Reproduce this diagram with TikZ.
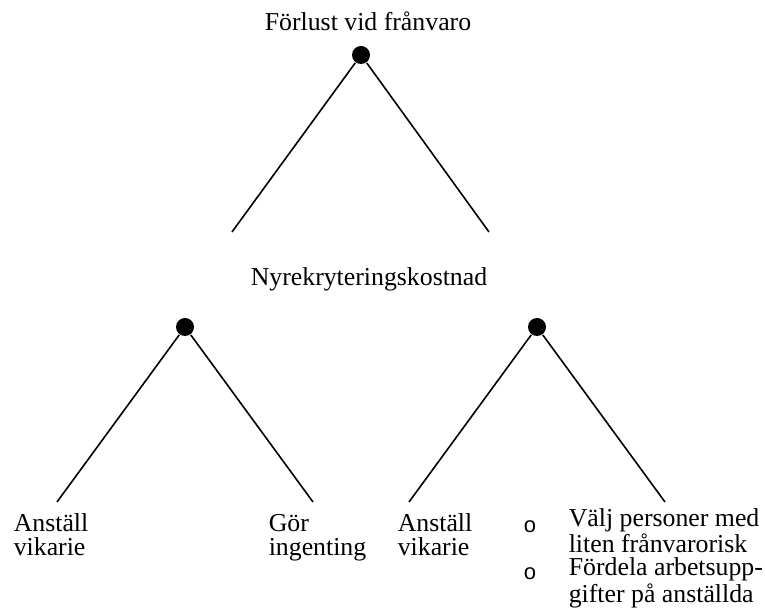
\documentclass[tikz,border=0pt]{standalone}
\usepackage{fontspec}
\setmainfont{Liberation Serif}
\setsansfont{Liberation Sans}
\usepackage{tikz}

\begin{document}
\begin{tikzpicture}[x=0.5pt,y=-0.5pt,line width=0.8pt,
		dot/.style={circle,fill,inner sep=0pt,minimum size=9pt},
		lbl/.style={inner sep=0pt,align=left,font=\fontsize{12.9}{11.65}\selectfont},
		bul/.style={inner sep=0pt,font=\fontsize{11}{11.65}\selectfont\sffamily}]
		\useasboundingbox (0,0) rectangle (765,608);
		% top level
		\node[lbl,anchor=base] (loss) at (368,31) {Förlust vid frånvaro};
		\node[dot] (top) at (361,55) {};
		\coordinate (topl) at (232,232);
		\coordinate (topr) at (489,232);
		\draw (top) -- (topl)
			  (top) -- (topr);
		\node[lbl,anchor=base] (recruit) at (369,286) {Nyrekryteringskostnad};
		% second level
		\node[dot] (left) at (185,327) {};
		\node[dot] (right) at (537,327) {};
		\coordinate (leftl) at (57,502);
		\coordinate (leftr) at (313,502);
		\coordinate (rightl) at (409,502);
		\coordinate (rightr) at (665,502);
		\draw (left) -- (leftl)
			  (left) -- (leftr)
			  (right) -- (rightl)
			  (right) -- (rightr);
		% leaves (base = last line)
		\node[lbl,anchor=base west] (hirea) at (13,555) {Anställ\\vikarie};
		\node[lbl,anchor=base west] (nothing) at (268,555) {Gör\\ingenting};
		\node[lbl,anchor=base west] (hireb) at (397,555) {Anställ\\vikarie};
		\node[bul,anchor=base] (bula) at (530,532) {o};
		\node[bul,anchor=base] (bulb) at (530,579) {o};
		\node[lbl,anchor=base west] (measures) at (568,602) {Välj personer med\\liten frånvarorisk\\Fördela arbetsupp-\\gifter på anställda};
	\end{tikzpicture}
\end{document}
